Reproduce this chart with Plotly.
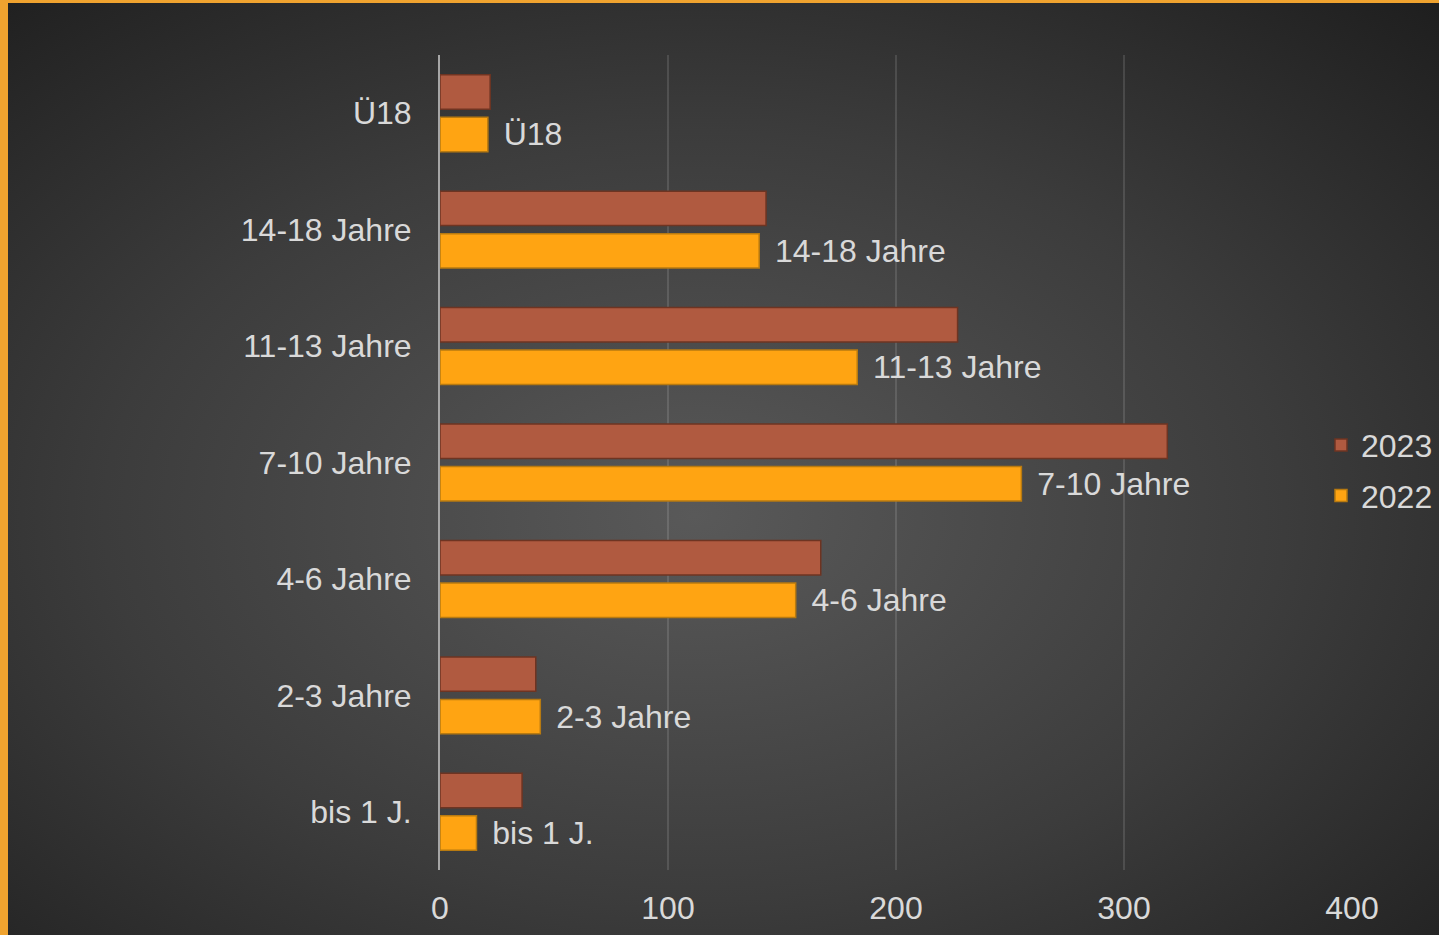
import base64
import plotly.graph_objects as go

categories = ["bis 1 J.", "2-3 Jahre", "4-6 Jahre", "7-10 Jahre", "11-13 Jahre", "14-18 Jahre", "Ü18"]
values_2023 = [36, 42, 167, 319, 227, 143, 22]
values_2022 = [16, 44, 156, 255, 183, 140, 21]
x_ticks = [0, 100, 200, 300, 400]

W, H = 1439, 935
ML, MR, MT, MB = 440, 87, 55, 65
PW, PH = W - ML - MR, H - MT - MB

svg = f'''<svg xmlns="http://www.w3.org/2000/svg" width="{W}" height="{H}" viewBox="0 0 {W} {H}" preserveAspectRatio="none">
<defs><radialGradient id="g" cx="48%" cy="55%" r="75%" gradientUnits="objectBoundingBox">
<stop offset="0" stop-color="#595959"/><stop offset="0.55" stop-color="#3c3c3c"/><stop offset="1" stop-color="#1f1f1f"/>
</radialGradient></defs>
<rect x="0" y="0" width="{W}" height="{H}" fill="#F0A32F"/>
<rect x="8" y="3" width="{W-8}" height="{H-3}" fill="url(#g)"/>
</svg>'''
bg_uri = "data:image/svg+xml;base64," + base64.b64encode(svg.encode()).decode()

FONT = "Liberation Sans, Arial, sans-serif"
TXT = "#d9d9d9"
FS = 32

fig = go.Figure()
fig.add_trace(go.Bar(
    name="2022", y=categories, x=values_2022, orientation="h",
    marker=dict(color="#FFA412", line=dict(color="#B87A10", width=1.5)),
    text=["\u2009\u2009" + c for c in categories], textposition="outside",
    constraintext="none", cliponaxis=False,
    outsidetextfont=dict(size=FS, color=TXT, family=FONT),
    legendgroup="a", legendrank=2, hoverinfo="x+y",
))
fig.add_trace(go.Bar(
    name="2023", y=categories, x=values_2023, orientation="h",
    marker=dict(color="#B05A40", line=dict(color="#6E3422", width=1.5)),
    legendgroup="b", legendrank=1, hoverinfo="x+y",
))

fig.update_layout(
    width=W, height=H,
    margin=dict(l=ML, r=MR, t=MT, b=MB, autoexpand=False),
    paper_bgcolor="#333333", plot_bgcolor="rgba(0,0,0,0)",
    barmode="group", bargap=0.27, bargroupgap=0.19,
    font=dict(family=FONT, size=FS, color=TXT),
    showlegend=True,
    legend=dict(x=0.966, xanchor="left", y=0.49, yanchor="middle",
                traceorder="grouped", tracegroupgap=6,
                bgcolor="rgba(0,0,0,0)", font=dict(size=FS, color=TXT)),
    xaxis=dict(range=[0, 400], tickvals=x_ticks, showgrid=True,
               gridcolor="rgba(255,255,255,0.12)", gridwidth=1.5,
               zeroline=False, showline=False, ticks="", automargin=False,
               ticklabelstandoff=16, tickfont=dict(size=FS, color=TXT)),
    yaxis=dict(showgrid=False, zeroline=False, showline=True, automargin=False,
               linecolor="#a6a6a6", linewidth=2, ticks="",
               ticklabelstandoff=20, tickfont=dict(size=FS, color=TXT)),
    images=[dict(source=bg_uri, xref="paper", yref="paper",
                 x=-ML / PW, y=1 + MT / PH, sizex=W / PW, sizey=H / PH,
                 xanchor="left", yanchor="top", sizing="stretch", layer="below")],
)

fig.write_html("out.html", config={"displayModeBar": False},
               post_script="document.body.style.margin='0';document.body.style.overflow='hidden';")
